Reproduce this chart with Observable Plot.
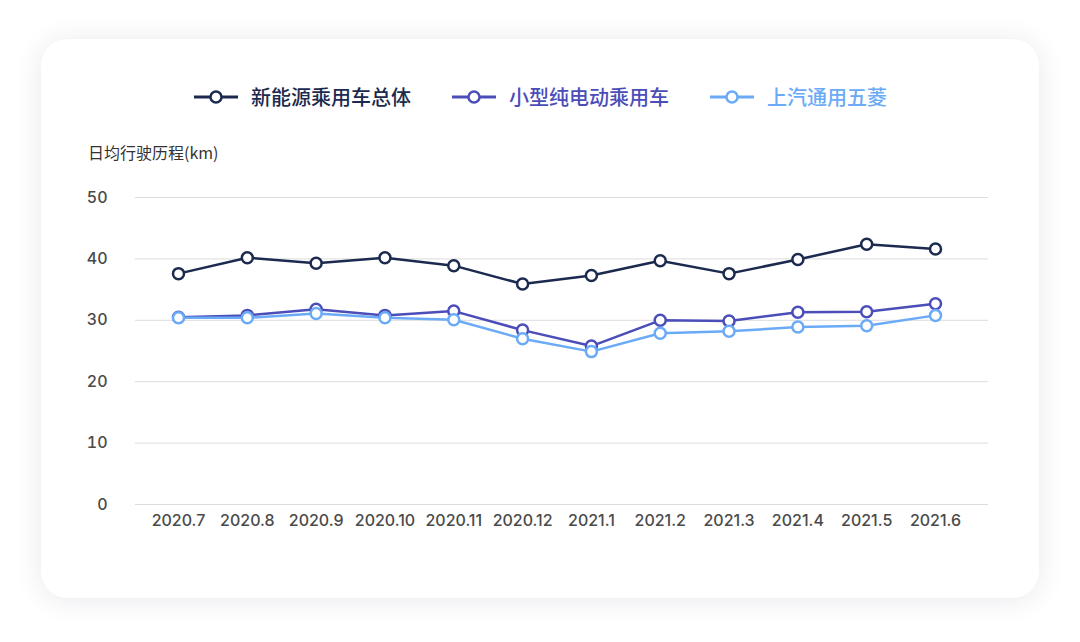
<!DOCTYPE html>
<html>
<head>
<meta charset="utf-8">
<script src="https://cdn.jsdelivr.net/npm/d3@7"></script>
<script src="https://cdn.jsdelivr.net/npm/@observablehq/plot@0.6"></script>
<style>
  html, body { margin: 0; padding: 0; background: #ffffff; width: 1080px; height: 642px; overflow: hidden; }
  body { position: relative; font-family: "Noto Sans CJK SC", "Noto Sans", sans-serif; }
  #card { position: absolute; left: 41px; top: 39px; width: 998px; height: 559px; background: #fff;
          border-radius: 26px; box-shadow: 0 2px 28px rgba(40, 40, 90, 0.10); }
  #legend { position: absolute; left: 0; top: 82px; width: 1080px; display: flex; justify-content: center; align-items: center; }
  .item { display: flex; align-items: center; font-size: 20px; font-weight: 500; margin: 0 20px; }
  .item svg { margin-right: 12px; }
  #ytitle { position: absolute; left: 88px; top: 140px; font-size: 16px; color: #333; }
  #chart { position: absolute; left: 41px; top: 170px; }
</style>
</head>
<body>
<div id="card"></div>
<div id="legend"></div>
<div id="ytitle">日均行驶历程(km)</div>
<div id="chart"></div>
<script>
const months = ["2020.7","2020.8","2020.9","2020.10","2020.11","2020.12","2021.1","2021.2","2021.3","2021.4","2021.5","2021.6"];
const seriesNames = ["新能源乘用车总体","小型纯电动乘用车","上汽通用五菱"];
const seriesColors = ["#1b2a4e","#4b4db8","#6aaaf7"];
const overall = [37.6, 40.2, 39.3, 40.2, 38.9, 35.9, 37.3, 39.7, 37.6, 39.9, 42.4, 41.6];
const smallEV = [30.5, 30.8, 31.8, 30.8, 31.5, 28.4, 25.8, 30.0, 29.9, 31.3, 31.4, 32.7];
const wuling  = [30.4, 30.4, 31.1, 30.4, 30.1, 27.0, 24.9, 27.9, 28.2, 28.9, 29.1, 30.8];
const yTicks = [0, 10, 20, 30, 40, 50];

const allSeries = [overall, smallEV, wuling];
const data = [];
allSeries.forEach((vals, si) => {
  vals.forEach((v, i) => data.push({month: months[i], value: v, series: seriesNames[si]}));
});

// legend
const legend = document.getElementById("legend");
seriesNames.forEach((name, i) => {
  const el = document.createElement("div");
  el.className = "item";
  el.style.color = seriesColors[i];
  el.innerHTML = `<svg width="46" height="16"><line x1="1" y1="8" x2="45" y2="8" stroke="${seriesColors[i]}" stroke-width="3"/><circle cx="23" cy="8" r="5.5" fill="#fff" stroke="${seriesColors[i]}" stroke-width="2.5"/></svg><span>${name}</span>`;
  legend.appendChild(el);
});

const chart = Plot.plot({
  width: 998,
  height: 380,
  marginLeft: 94,
  marginRight: 51,
  marginTop: 27,
  marginBottom: 46,
  style: { fontFamily: "Inter, 'Noto Sans CJK SC', sans-serif", fontSize: "16px", color: "#4a4a4a", background: "transparent" },
  x: { type: "point", domain: months, padding: 0, round: false, insetLeft: 43, insetRight: 53, label: null },
  y: { domain: [0, 50], ticks: yTicks, label: null },
  color: { domain: seriesNames, range: seriesColors },
  marks: [
    Plot.ruleY(yTicks, { stroke: "#dcdcdc", strokeWidth: 1 }),
    Plot.axisY({ ticks: yTicks, tickSize: 0, tickPadding: 28, label: null, fontWeight: 500, fill: "#4a4a4a" }),
    Plot.axisX({ tickSize: 0, tickPadding: 10, label: null, fontWeight: 500, fill: "#4a4a4a" }),
    Plot.line(data, { x: "month", y: "value", z: "series", stroke: "series", strokeWidth: 2.5 }),
    Plot.dot(data, { x: "month", y: "value", stroke: "series", fill: "#fff", r: 5.5, strokeWidth: 2.5 })
  ]
});
document.getElementById("chart").appendChild(chart);
</script>
</body>
</html>
